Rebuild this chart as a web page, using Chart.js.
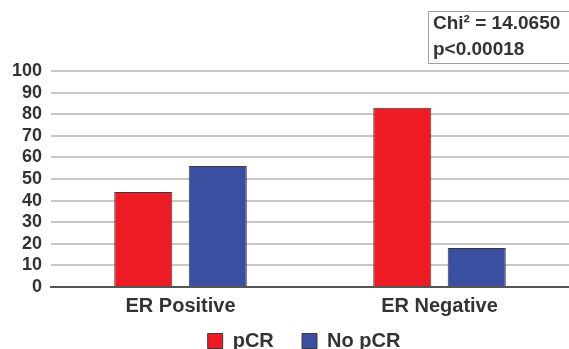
<!DOCTYPE html>
<html>
<head>
<meta charset="utf-8">
<script src="https://cdn.jsdelivr.net/npm/chart.js@4"></script>
<style>
  html, body { margin: 0; padding: 0; background: #fff; }
  #wrap { width: 569px; height: 349px; }
</style>
</head>
<body>
<div id="wrap"><canvas id="chart"></canvas></div>
<script>
let categories = ["ER Positive", "ER Negative"];
let pcrValues = [44, 83];
let noPcrValues = [56, 18];
let yTicks = [0, 10, 20, 30, 40, 50, 60, 70, 80, 90, 100];
let statsLines = ["Chi\u00B2 = 14.0650", "p<0.00018"];

let fontFamily = "'Liberation Sans', Arial, sans-serif";

// box with the chi-square result, top right
let statsBox = {
  id: "statsBox",
  afterDraw(chart) {
    let ctx = chart.ctx;
    ctx.save();
    ctx.fillStyle = "#fff";
    ctx.strokeStyle = "#a0a0a0";
    ctx.lineWidth = 1;
    ctx.fillRect(428.5, 11.5, 142, 52);
    ctx.strokeRect(428.5, 11.5, 142, 52);
    ctx.fillStyle = "#333";
    ctx.font = "bold 19px " + fontFamily;
    ctx.textBaseline = "middle";
    ctx.fillText(statsLines[0], 433, 24);
    ctx.fillText(statsLines[1], 433, 50);
    ctx.restore();
  },
};

// legend in the original sits centred under the plot, not the canvas
let legendShift = {
  id: "legendShift",
  afterLayout(chart) {
    chart.legend.left += 18;
    chart.legend.right += 18;
  },
};

let ctx = document.getElementById("chart").getContext("2d");
new Chart(ctx, {
  type: "bar",
  data: {
    labels: categories,
    datasets: [
      {
        label: "pCR",
        data: pcrValues,
        backgroundColor: "#ed1c24",
        borderColor: "#3a3a3a",
        borderWidth: 1,
      },
      {
        label: "No pCR",
        data: noPcrValues,
        backgroundColor: "#3b4fa1",
        borderColor: "#3a3a3a",
        borderWidth: 1,
      },
    ],
  },
  options: {
    responsive: true,
    maintainAspectRatio: false,
    animation: false,
    categoryPercentage: 0.575,
    barPercentage: 0.78,
    layout: {
      padding: { left: 3, right: 0, top: 71, bottom: -12 },
    },
    plugins: {
      legend: {
        position: "bottom",
        labels: {
          boxWidth: 15,
          boxHeight: 15,
          padding: 6,
          color: "#333",
          font: { family: fontFamily, size: 20, weight: "bold" },
          // trailing spaces give the wider gap between the two items
          generateLabels: (chart) => {
            let items = Chart.defaults.plugins.legend.labels.generateLabels(chart);
            items[0].text = items[0].text + "    ";
            return items;
          },
        },
      },
      tooltip: { enabled: false },
    },
    scales: {
      x: {
        grid: { display: false, drawTicks: false },
        border: { color: "#555", width: 2 },
        ticks: {
          color: "#333",
          padding: 7,
          font: { family: fontFamily, size: 20, weight: "bold" },
        },
      },
      y: {
        min: 0,
        max: 100,
        afterBuildTicks: (axis) => {
          axis.ticks = yTicks.map((v) => ({ value: v }));
        },
        grid: {
          color: "#c8c8c8",
          lineWidth: 2,
          drawTicks: false,
        },
        border: { display: false },
        ticks: {
          autoSkip: false,
          color: "#333",
          padding: 9,
          font: { family: fontFamily, size: 18, weight: "bold" },
        },
      },
    },
  },
  plugins: [statsBox, legendShift],
});
</script>
</body>
</html>
